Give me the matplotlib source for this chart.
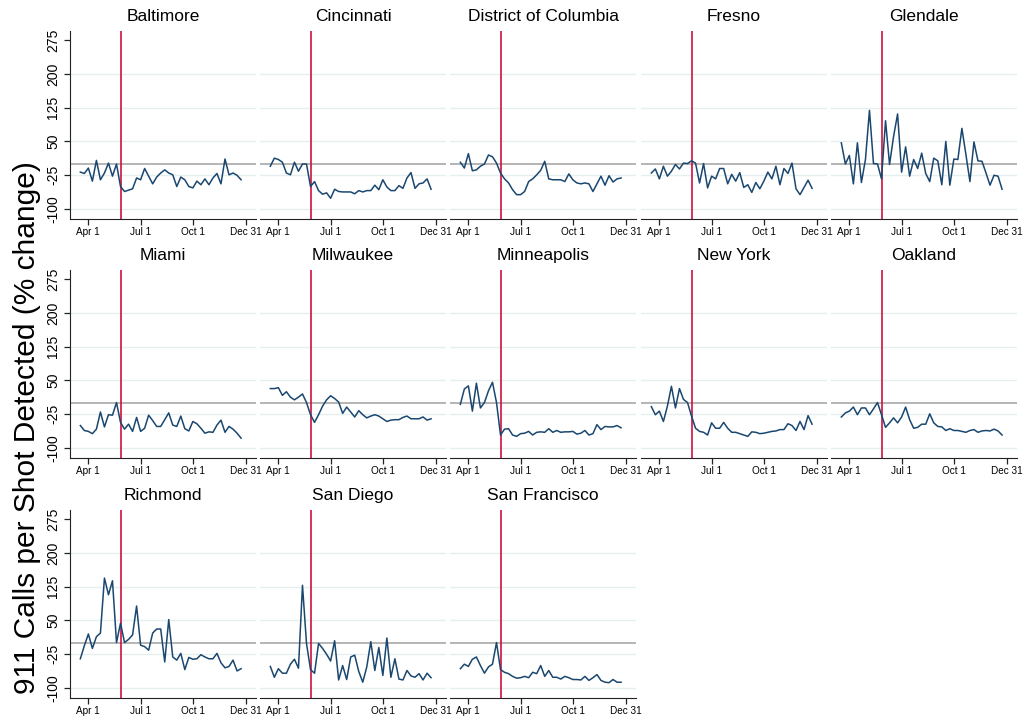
import numpy as np
import matplotlib
matplotlib.use("Agg")
import matplotlib.pyplot as plt
import matplotlib.dates as mdates

plt.rcParams['font.family'] = ['Liberation Sans', 'DejaVu Sans']

# weekly points, 41 weeks starting 18 Mar 2020
weeks = np.arange('2020-03-18', '2020-12-24', 7, dtype='datetime64[D]')
event_date = np.datetime64('2020-05-27')

cities = ['Baltimore', 'Cincinnati', 'District of Columbia', 'Fresno', 'Glendale',
          'Miami', 'Milwaukee', 'Minneapolis', 'New York', 'Oakland',
          'Richmond', 'San Diego', 'San Francisco']

baltimore = [-18, -21, -9, -38, 8, -35, -20, 2, -27, 0, -50, -61, -58, -55, -31, -35, -10, -27, -44, -29,
             -20, -13, -20, -24, -50, -29, -35, -50, -53, -38, -46, -33, -46, -31, -21, -44, 11, -24, -20, -25, -35]
cincinnati = [-5, 13, 10, 4, -20, -24, 4, -16, 0, 0, -50, -39, -59, -67, -64, -76, -56, -61, -62, -62,
              -62, -66, -59, -62, -59, -59, -47, -57, -35, -51, -59, -59, -48, -54, -31, -19, -54, -44, -42, -33, -56]
dc = [4, -9, 23, -15, -13, -5, 0, 20, 16, 2, -20, -33, -42, -57, -68, -68, -61, -39, -33, -24,
      -14, 6, -33, -35, -35, -35, -39, -22, -35, -42, -44, -42, -44, -61, -44, -27, -47, -26, -40, -33, -31]
fresno = [-20, -11, -33, -5, -27, -16, -1, -11, 2, 1, 7, 2, -42, 1, -53, -27, -33, -10, -10, -44,
          -23, -38, -19, -52, -46, -63, -41, -55, -38, -18, -33, -5, -46, -10, -21, 2, -55, -68, -52, -36, -54]
glendale = [47, 0, 19, -44, 47, -41, 10, 119, 1, 0, -33, 96, -1, 61, 111, -18, 38, -27, 10, -10,
            24, -21, -39, 13, 7, -46, 50, -47, 11, 10, 79, 21, -39, 49, 7, 6, -20, -47, -25, -27, -56]
miami = [-50, -61, -63, -68, -58, -20, -53, -26, -27, 1, -43, -58, -47, -63, -32, -63, -56, -27, -39, -52,
         -52, -37, -22, -49, -52, -29, -57, -62, -41, -46, -56, -67, -64, -65, -49, -38, -65, -52, -58, -67, -78]
milwaukee = [32, 32, 34, 17, 25, 13, 7, 13, 20, 1, -26, -43, -26, -7, 7, 16, 10, 2, -23, -9,
             -20, -31, -17, -26, -33, -29, -26, -29, -35, -41, -38, -37, -37, -32, -29, -35, -35, -35, -31, -38, -35]
minneapolis = [-3, 31, 38, -18, 44, -11, 1, 27, 46, 1, -71, -58, -57, -71, -74, -68, -67, -63, -71, -65,
               -64, -65, -57, -65, -61, -65, -64, -64, -63, -69, -67, -61, -71, -68, -48, -59, -52, -53, -53, -50, -55]
new_york = [-8, -26, -18, -41, -7, 37, -11, 32, 8, 1, -29, -56, -63, -65, -71, -44, -56, -56, -43, -56,
            -65, -65, -68, -71, -74, -64, -65, -68, -67, -65, -63, -62, -59, -59, -46, -50, -61, -41, -59, -28, -47]
oakland = [-31, -22, -18, -9, -26, -11, -11, -26, -13, 1, -26, -54, -44, -33, -44, -31, -9, -37, -56, -54,
           -47, -47, -24, -44, -52, -53, -61, -57, -61, -61, -63, -65, -61, -59, -65, -62, -61, -62, -58, -62, -71]
richmond = [-35, -6, 20, -12, 14, 22, 144, 107, 138, 1, 44, 1, 8, 18, 82, -5, -8, -16, 22, 31,
            31, -42, 52, -31, -38, -23, -59, -32, -36, -35, -26, -31, -35, -35, -23, -44, -55, -52, -38, -62, -57]
san_diego = [-52, -76, -57, -67, -67, -47, -36, -56, 128, -1, -59, -67, -1, -12, -25, -40, 5, -82, -50, -81,
             -31, -27, -63, -87, -53, 3, -61, -10, -72, 11, -76, -35, -80, -82, -61, -73, -76, -68, -82, -67, -77]
san_francisco = [-57, -47, -52, -36, -31, -50, -67, -53, -47, 1, -59, -65, -68, -74, -78, -77, -74, -77, -65, -68,
                 -50, -74, -61, -76, -76, -80, -74, -77, -81, -81, -82, -74, -83, -77, -70, -83, -87, -88, -81, -87, -87]

series = [baltimore, cincinnati, dc, fresno, glendale, miami, milwaukee, minneapolis,
          new_york, oakland, richmond, san_diego, san_francisco]

yticks = [-100, -25, 50, 125, 200, 275]
xticks = [np.datetime64('2020-04-01'), np.datetime64('2020-07-01'),
          np.datetime64('2020-10-01'), np.datetime64('2020-12-31')]
xlabels = ['Apr 1', 'Jul 1', 'Oct 1', 'Dec 31']

W, H = 1023, 721
fig = plt.figure(figsize=(W / 100, H / 100), dpi=100)

col_left = [70, 260, 450, 641, 831]
row_top = [31, 270, 510]
ax_w, ax_h = 186, 188

for i, (name, vals) in enumerate(zip(cities, series)):
    r, c = divmod(i, 5)
    ax = fig.add_axes([col_left[c] / W, 1 - (row_top[r] + ax_h) / H, ax_w / W, ax_h / H])
    for g in yticks[:-1]:
        ax.axhline(g, color='#e6efef', lw=1, zorder=0)
    ax.axhline(0, color='#a0a0a0', lw=1.1, zorder=1)
    ax.axvline(event_date, color='#d0103f', lw=1.2, zorder=2)
    ax.plot(weeks, vals, color='#1a476f', lw=1.1, zorder=3)

    ax.set_ylim(-122, 295)
    ax.set_xlim(np.datetime64('2020-02-29'), np.datetime64('2021-01-18'))
    ax.set_xticks(xticks)
    ax.set_xticklabels(xlabels, fontsize=7.2)
    ax.set_title(name, fontsize=12.5, pad=7)

    for s in ['top', 'right']:
        ax.spines[s].set_visible(False)
    ax.spines['bottom'].set_color('#222222')
    ax.tick_params(axis='x', length=4, width=0.9, color='#222222', pad=2)

    if c == 0:
        ax.set_yticks(yticks)
        ax.set_yticklabels([str(v) for v in yticks], fontsize=10, rotation=90, va='center')
        ax.spines['left'].set_color('#222222')
        ax.tick_params(axis='y', length=4, width=0.9, color='#222222', pad=3)
    else:
        ax.spines['left'].set_visible(False)
        ax.set_yticks([])

fig.text(27 / W, 1 - 428 / H, '911 Calls per Shot Detected (% change)',
         rotation=90, fontsize=21.5, ha='center', va='center')

fig.savefig('out.png', dpi=100)
